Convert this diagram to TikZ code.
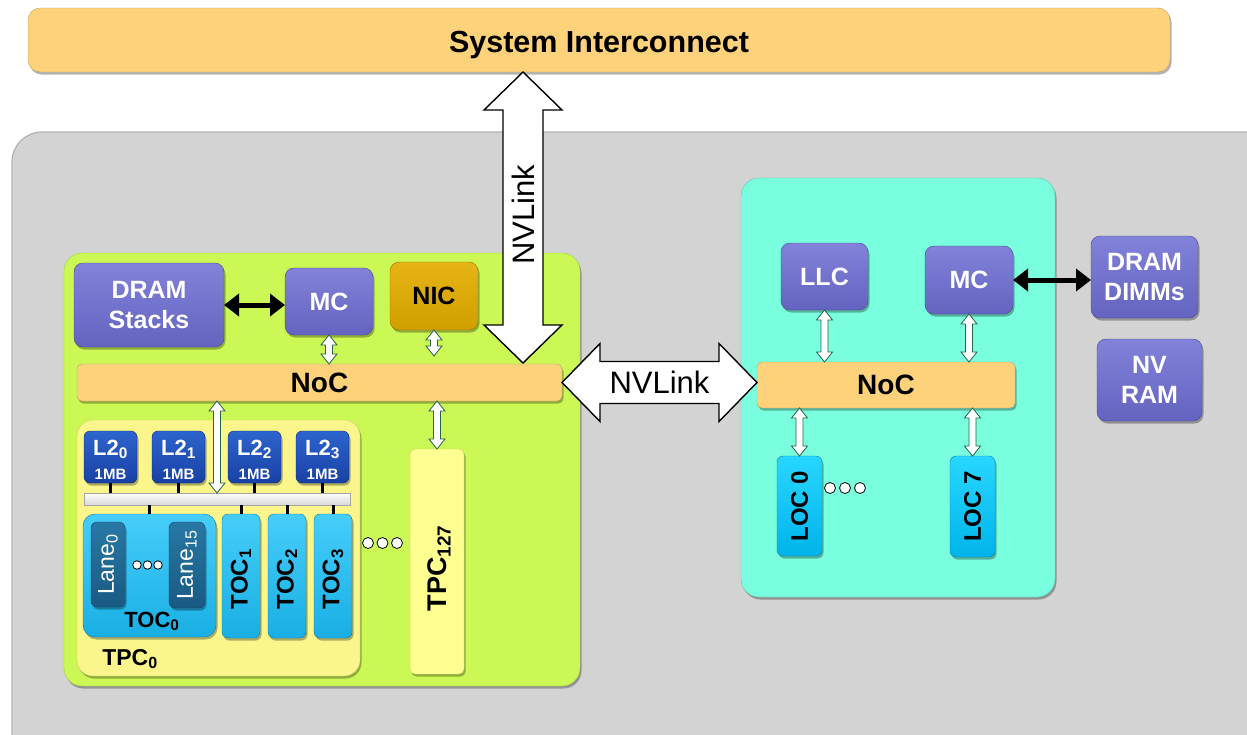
\documentclass[tikz,border=0pt]{standalone}
\usepackage{fontspec}
\setmainfont{Liberation Sans}
\usetikzlibrary{calc,shadows,arrows.meta}
\definecolor{orangeY}{RGB}{253,210,123}
\definecolor{orangeD}{RGB}{190,160,100}
\definecolor{bggray}{RGB}{211,211,211}
\definecolor{lime}{RGB}{204,248,85}
\definecolor{limeD}{RGB}{165,205,70}
\definecolor{tpcY}{RGB}{250,246,140}
\definecolor{tpcYD}{RGB}{210,205,110}
\definecolor{tpcY2}{RGB}{255,255,145}
\definecolor{purpleL}{RGB}{130,130,218}
\definecolor{purpleM}{RGB}{100,100,192}
\definecolor{purpleD}{RGB}{72,72,145}
\definecolor{nicL}{RGB}{230,180,20}
\definecolor{nicC}{RGB}{208,160,0}
\definecolor{nicD}{RGB}{150,115,0}
\definecolor{l2L}{RGB}{45,100,205}
\definecolor{l2C}{RGB}{25,65,165}
\definecolor{l2D}{RGB}{15,40,110}
\definecolor{tocL}{RGB}{70,205,250}
\definecolor{tocC}{RGB}{25,175,228}
\definecolor{tocD}{RGB}{20,120,170}
\definecolor{laneL}{RGB}{40,120,165}
\definecolor{laneC}{RGB}{25,90,130}
\definecolor{aqua}{RGB}{122,255,222}
\definecolor{aquaD}{RGB}{90,200,175}
\definecolor{locL}{RGB}{40,215,255}
\definecolor{locC}{RGB}{0,180,235}
\definecolor{arrG}{RGB}{40,100,70}
\newcommand\vblock[6]{%
  \pgfmathsetmacro\dd{#5-#4}%
  \draw[#1] (#2) -- ++(#5,#6) -- ++(-\dd,0) -- ($(#3)+(#4,-#6)$) -- ++(\dd,0) -- (#3)
    -- ++(-#5,-#6) -- ++(\dd,0) -- ($(#2)+(-#4,#6)$) -- ++(-\dd,0) -- cycle;}
\newcommand\hblock[6]{%
  \pgfmathsetmacro\dd{#5-#4}%
  \draw[#1] (#2) -- ++(#6,-#5) -- ++(0,\dd) -- ($(#3)+(-#6,-#4)$) -- ++(0,-\dd) -- (#3)
    -- ++(-#6,#5) -- ++(0,-\dd) -- ($(#2)+(#6,#4)$) -- ++(0,\dd) -- cycle;}
\begin{document}
\begin{tikzpicture}[x=1pt,y=-1pt,
  every node/.style={inner sep=0pt,outer sep=0pt},
  shad/.style={drop shadow={shadow xshift=1.5pt,shadow yshift=-2.5pt,opacity=0.3,fill=black}},
  bf/.style={font=\bfseries\fontsize{#1}{#1}\selectfont},
  sibar/.style={draw=orangeD,fill=orangeY,rounded corners=12pt,shad,bf=30.5},
  chipbox/.style={draw=gray!60,line width=1.2pt,fill=bggray,rounded corners=30pt},
  greenbox/.style={draw=limeD,fill=lime,rounded corners=18pt,shad},
  aquabox/.style={draw=aquaD,fill=aqua,rounded corners=18pt,shad},
  purplebox/.style={draw=purpleD,top color=purpleL,bottom color=purpleM,rounded corners=9pt,
     text=white,align=center,shad,font=\bfseries\fontsize{25}{30}\selectfont},
  nicbox/.style={draw=nicD,top color=nicL,bottom color=nicC,rounded corners=9pt,
     text=black,shad,bf=25},
  nocbox/.style={draw=orangeD,fill=orangeY,rounded corners=5pt,shad,bf=28},
  tpcbox/.style={draw=tpcYD,fill=tpcY,rounded corners=16pt,shad},
  tpcbbox/.style={draw=tpcYD,fill=tpcY2,rounded corners=5pt,shad},
  l2box/.style={draw=l2D,top color=l2L,bottom color=l2C,rounded corners=6pt,
     minimum width=53pt,minimum height=52pt,shad},
  l2text/.style={text=white,bf=22},
  mbtext/.style={text=white,bf=15},
  barbox/.style={draw=gray!70,top color=white,bottom color=gray!30,minimum width=266pt,minimum height=12pt},
  tocbox/.style={draw=tocD,top color=tocL,bottom color=tocC,rounded corners=6pt,shad},
  lanebox/.style={draw=laneC!70!black,top color=laneL,bottom color=laneC,rounded corners=6pt,shad},
  lanetext/.style={text=white,font=\fontsize{23}{23}\selectfont},
  loctext/.style={text=black,bf=24},
  blacktext/.style={text=black,bf=#1},
  busline/.style={line width=3pt,black},
  smallarr/.style={fill=white,draw=arrG,line width=0.8pt,line join=miter},
  bigarr/.style={fill=white,draw=black,line width=1.4pt,line join=miter},
  blkarr/.style={line width=5pt,{Triangle[length=15pt,width=22pt]}-{Triangle[length=15pt,width=22pt]}},
  nvtext/.style={text=black,font=\fontsize{31}{31}\selectfont},
  dot/.style={circle,draw=black,fill=white,line width=0.8pt,minimum size=#1}
]
\useasboundingbox (0,0) rectangle (1247,734);
% containers
\node[chipbox,minimum width=1280pt,minimum height=640pt] (chip) at (652,452) {};
\node[sibar,minimum width=1142pt,minimum height=64pt] (si) at (599,40) {};
\node[anchor=base,bf=30.5] (sit) at (599,52) {System Interconnect};
\node[greenbox,minimum width=516pt,minimum height=433pt] (gpu) at (322,469.5) {};
\node[aquabox,minimum width=314pt,minimum height=419pt] (lcp) at (898,387.5) {};
% left chip
\node[purplebox,minimum width=150pt,minimum height=84pt] (dramS) at (149,305) {DRAM\\Stacks};
\node[purplebox,minimum width=88pt,minimum height=67pt] (mcL) at (329,301.5) {MC};
\node[nicbox,minimum width=88pt,minimum height=68pt] (nic) at (434,296) {NIC};
\node[nocbox,minimum width=485pt,minimum height=37pt] (nocL) at (319.5,382.5) {NoC};
\node[tpcbox,minimum width=283pt,minimum height=256pt] (tpc0) at (218.5,548) {};
\node[barbox] (bar) at (217,499) {};
\foreach \i/\x in {0/110.5,1/178.5,2/254.5,3/322.5} {
  \node[l2box] (l2\i) at (\x,457) {};
  \node[l2text,anchor=base] (l2t\i) at (\x,455) {L2\textsubscript{\i}};
  \node[mbtext,anchor=base] (l2m\i) at (\x,479) {1MB};
  \draw[busline] (l2\i.south) -- (l2\i.south |- bar.north);
}
\node[tocbox,minimum width=133pt,minimum height=123pt,rounded corners=12pt] (toc0) at (149.5,575.5) {};
\node[lanebox,minimum width=34pt,minimum height=85pt] (lane0) at (108,564.5) {};
\node[lanebox,minimum width=36pt,minimum height=86pt] (lane15) at (187,565) {};
\node[lanetext,rotate=90] (lane0t) at (lane0) {Lane\textsubscript{0}};
\node[lanetext,rotate=90] (lane15t) at (lane15) {Lane\textsubscript{15}};
\node[dot=8.5pt] (ld1) at (137,565) {};
\node[dot=8.5pt] (ld2) at (147.5,565) {};
\node[dot=8.5pt] (ld3) at (158,565) {};
\node[blacktext=22,anchor=base] (toc0t) at (152,627) {TOC\textsubscript{0}};
\foreach \i/\x in {1/241,2/287,3/333} {
  \node[tocbox,minimum width=38pt,minimum height=124pt] (toc\i) at (\x,576) {};
  \node[blacktext=24,rotate=90] (toc\i t) at (\x,579) {TOC\textsubscript{\i}};
}
\foreach \t in {toc0,toc1,toc2,toc3} {
  \draw[busline] (\t.north) -- (\t.north |- bar.south);
}
\node[blacktext=23,anchor=base] (tpc0t) at (130,665) {TPC\textsubscript{0}};
\node[dot=11pt] (td1) at (368,543) {};
\node[dot=11pt] (td2) at (382.5,543) {};
\node[dot=11pt] (td3) at (397,543) {};
\node[tpcbbox,minimum width=54pt,minimum height=225pt] (tpc127) at (437,561.5) {};
\node[blacktext=27,rotate=90] (tpc127t) at (439,568) {TPC\textsubscript{127}};
% right chip
\node[purplebox,minimum width=87pt,minimum height=67pt] (llc) at (824.5,276.5) {LLC};
\node[purplebox,minimum width=88pt,minimum height=68pt] (mcR) at (969,280) {MC};
\node[nocbox,minimum width=258pt,minimum height=46pt] (nocR) at (886,385) {NoC};
\node[tocbox,top color=locL,bottom color=locC,minimum width=45pt,minimum height=100pt] (loc0) at (799.5,506) {};
\node[tocbox,top color=locL,bottom color=locC,minimum width=45pt,minimum height=101pt] (loc7) at (972.5,506.5) {};
\node[loctext,rotate=90] (loc0t) at (loc0) {LOC 0};
\node[loctext,rotate=90] (loc7t) at (loc7) {LOC 7};
\node[dot=11pt] (rd1) at (830,488) {};
\node[dot=11pt] (rd2) at (845,488) {};
\node[dot=11pt] (rd3) at (860,488) {};
\node[purplebox,minimum width=107pt,minimum height=82pt] (dimm) at (1144.5,277) {DRAM\\DIMMs};
\node[purplebox,minimum width=105pt,minimum height=82pt] (nvram) at (1149.5,380) {NV\\RAM};
% black arrows
\draw[blkarr] (dramS.east) -- (mcL.west |- dramS.east);
\draw[blkarr] (mcR.east) -- (dimm.west |- mcR.east);
% small arrows
\coordinate (a1) at (mcL.south |- nocL.north);
\vblock{smallarr}{mcL.south}{a1}{3.5}{8}{10}
\coordinate (a2b) at ($(nic.south |- nocL.north)+(0,-8)$);
\vblock{smallarr}{nic.south}{a2b}{3.5}{8}{10}
\coordinate (a3) at (bar.north |- nocL.south);
\vblock{smallarr}{a3}{bar.north}{3.5}{8}{10}
\coordinate (a4) at (tpc127.north |- nocL.south);
\vblock{smallarr}{a4}{tpc127.north}{3.5}{8}{10}
\coordinate (a5) at (llc.south |- nocR.north);
\vblock{smallarr}{llc.south}{a5}{3.5}{8}{10}
\coordinate (a6) at (mcR.south |- nocR.north);
\vblock{smallarr}{mcR.south}{a6}{3.5}{8}{10}
\coordinate (a7) at (loc0.north |- nocR.south);
\vblock{smallarr}{a7}{loc0.north}{3.5}{8}{10}
\coordinate (a8) at (loc7.north |- nocR.south);
\vblock{smallarr}{a8}{loc7.north}{3.5}{8}{10}
% NVLink arrows
\coordinate (nvx) at (523,0);
\coordinate (nvT) at (nvx |- si.south);
\coordinate (nvB) at ($(nvx |- nocL.north)+(0,-1)$);
\vblock{bigarr}{nvT}{nvB}{20}{39}{38}
\node[nvtext,rotate=90] (nvl1) at (523,215) {NVLink};
\coordinate (nhL) at (nocL.east);
\coordinate (nhR) at (nocR.west |- nocL.east);
\hblock{bigarr}{nhL}{nhR}{21}{39}{38}
\node[nvtext] (nvl2) at ($(nhL)!0.5!(nhR)$) {NVLink};
\end{tikzpicture}
\end{document}
